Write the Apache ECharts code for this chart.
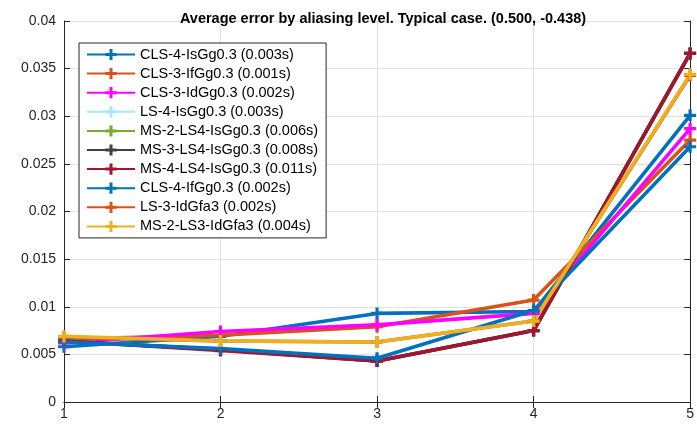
<!DOCTYPE html>
<html lang="en">

<head>
    <meta charset="UTF-8">
    <title>Average error by aliasing level</title>
    <style>
        html,
        body {
            margin: 0;
            padding: 0;
            background: #fff;
        }
    </style>
</head>

<body>
    <div id="main" style="width: 697px;height:427px;"></div>
    <script src="https://cdn.jsdelivr.net/npm/echarts@6/dist/echarts.min.js"></script>
    <script type="text/javascript">
        // aliasing levels on the x axis
        var levels = [1, 2, 3, 4, 5];
        var yTicks = [0, 0.005, 0.01, 0.015, 0.02, 0.025, 0.03, 0.035, 0.04];

        var names = [
            'CLS-4-IsGg0.3 (0.003s)',
            'CLS-3-IfGg0.3 (0.001s)',
            'CLS-3-IdGg0.3 (0.002s)',
            'LS-4-IsGg0.3 (0.003s)',
            'MS-2-LS4-IsGg0.3 (0.006s)',
            'MS-3-LS4-IsGg0.3 (0.008s)',
            'MS-4-LS4-IsGg0.3 (0.011s)',
            'CLS-4-IfGg0.3 (0.002s)',
            'LS-3-IdGfa3 (0.002s)',
            'MS-2-LS3-IdGfa3 (0.004s)'
        ];

        // average error per level, one array per method
        var cls4IsGg = [0.0058, 0.0069, 0.0093, 0.0095, 0.0301];
        var cls3IfGg = [0.0066, 0.0070, 0.0079, 0.0107, 0.0275];
        var cls3IdGg = [0.0062, 0.0074, 0.0081, 0.0093, 0.0287];
        var ls4IsGg = [0.0064, 0.0055, 0.0043, 0.0075, 0.0366];
        var ms2Ls4IsGg = [0.0064, 0.0055, 0.0043, 0.0075, 0.0366];
        var ms3Ls4IsGg = [0.0064, 0.0055, 0.0043, 0.0075, 0.0366];
        var ms4Ls4IsGg = [0.0064, 0.0054, 0.0043, 0.0075, 0.0366];
        var cls4IfGg = [0.0063, 0.0056, 0.0046, 0.0096, 0.0268];
        var ls3IdGfa3 = [0.0068, 0.0064, 0.0063, 0.0085, 0.0343];
        var ms2Ls3IdGfa3 = [0.0069, 0.0064, 0.0063, 0.0085, 0.0344];

        var allValues = [cls4IsGg, cls3IfGg, cls3IdGg, ls4IsGg, ms2Ls4IsGg,
            ms3Ls4IsGg, ms4Ls4IsGg, cls4IfGg, ls3IdGfa3, ms2Ls3IdGfa3];
        var colors = ['#0072BD', '#D95319', '#FF00FF', '#A8E6FF', '#77AC30',
            '#404040', '#A2142F', '#0072BD', '#D95319', '#EDB120'];

        // thick plus marker like matlab's '+' with a wide line
        var plusPath = 'path://M-1.6,-6 h3.2 v4.4 h4.4 v3.2 h-4.4 v4.4 h-3.2 v-4.4 h-4.4 v-3.2 h4.4 z';
        var font = 'Liberation Sans, Arial, sans-serif';
        var ink = '#262626';

        var series = names.map(function (name, i) {
            return {
                name: name,
                type: 'line',
                data: levels.map(function (x, j) { return [x, allValues[i][j]]; }),
                symbol: plusPath,
                symbolSize: 12,
                showSymbol: true,
                lineStyle: { width: 3.6, color: colors[i] },
                itemStyle: { color: colors[i] },
                emphasis: { disabled: true },
                animation: false
            };
        });

        var myChart = echarts.init(document.getElementById('main'));
        var option = {
            backgroundColor: '#fff',
            animation: false,
            title: {
                text: 'Average error by aliasing level. Typical case. (0.500, -0.438)',
                left: 378,
                textAlign: 'center',
                top: 6,
                textStyle: { fontFamily: font, fontSize: 14.5, fontWeight: 'bold', color: '#000' }
            },
            legend: {
                orient: 'vertical',
                left: 79,
                top: 43,
                padding: [4, 8, 4, 7],
                itemWidth: 48,
                itemHeight: 14,
                itemGap: 4.1,
                backgroundColor: '#fff',
                borderColor: ink,
                borderWidth: 1,
                borderRadius: 0,
                textStyle: { fontFamily: font, fontSize: 14.5, color: '#000' },
                data: names
            },
            grid: { left: 64, right: 3, top: 21, bottom: 25, containLabel: false },
            xAxis: [{
                type: 'value',
                min: 1,
                max: 5,
                interval: 1,
                axisLine: { lineStyle: { color: ink } },
                axisTick: { inside: true, length: 6, lineStyle: { color: ink } },
                axisLabel: { fontFamily: font, fontSize: 14, color: ink, margin: 5 },
                splitLine: { lineStyle: { color: '#e1e1e1' } }
            }, {
                type: 'value',
                position: 'top',
                min: 1,
                max: 5,
                interval: 1,
                axisLine: { show: true, lineStyle: { color: ink } },
                axisTick: { inside: true, length: 6, lineStyle: { color: ink } },
                axisLabel: { show: false },
                splitLine: { show: false }
            }],
            yAxis: [{
                type: 'value',
                min: yTicks[0],
                max: yTicks[yTicks.length - 1],
                interval: 0.005,
                axisLine: { show: true, lineStyle: { color: ink } },
                axisTick: { show: true, inside: true, length: 6, lineStyle: { color: ink } },
                axisLabel: { fontFamily: font, fontSize: 14, color: ink, margin: 8 },
                splitLine: { lineStyle: { color: '#e1e1e1' } }
            }, {
                type: 'value',
                position: 'right',
                min: yTicks[0],
                max: yTicks[yTicks.length - 1],
                interval: 0.005,
                axisLine: { show: true, lineStyle: { color: ink } },
                axisTick: { show: true, inside: true, length: 6, lineStyle: { color: ink } },
                axisLabel: { show: false },
                splitLine: { show: false }
            }],
            series: series
        };
        myChart.setOption(option);
    </script>
</body>

</html>
